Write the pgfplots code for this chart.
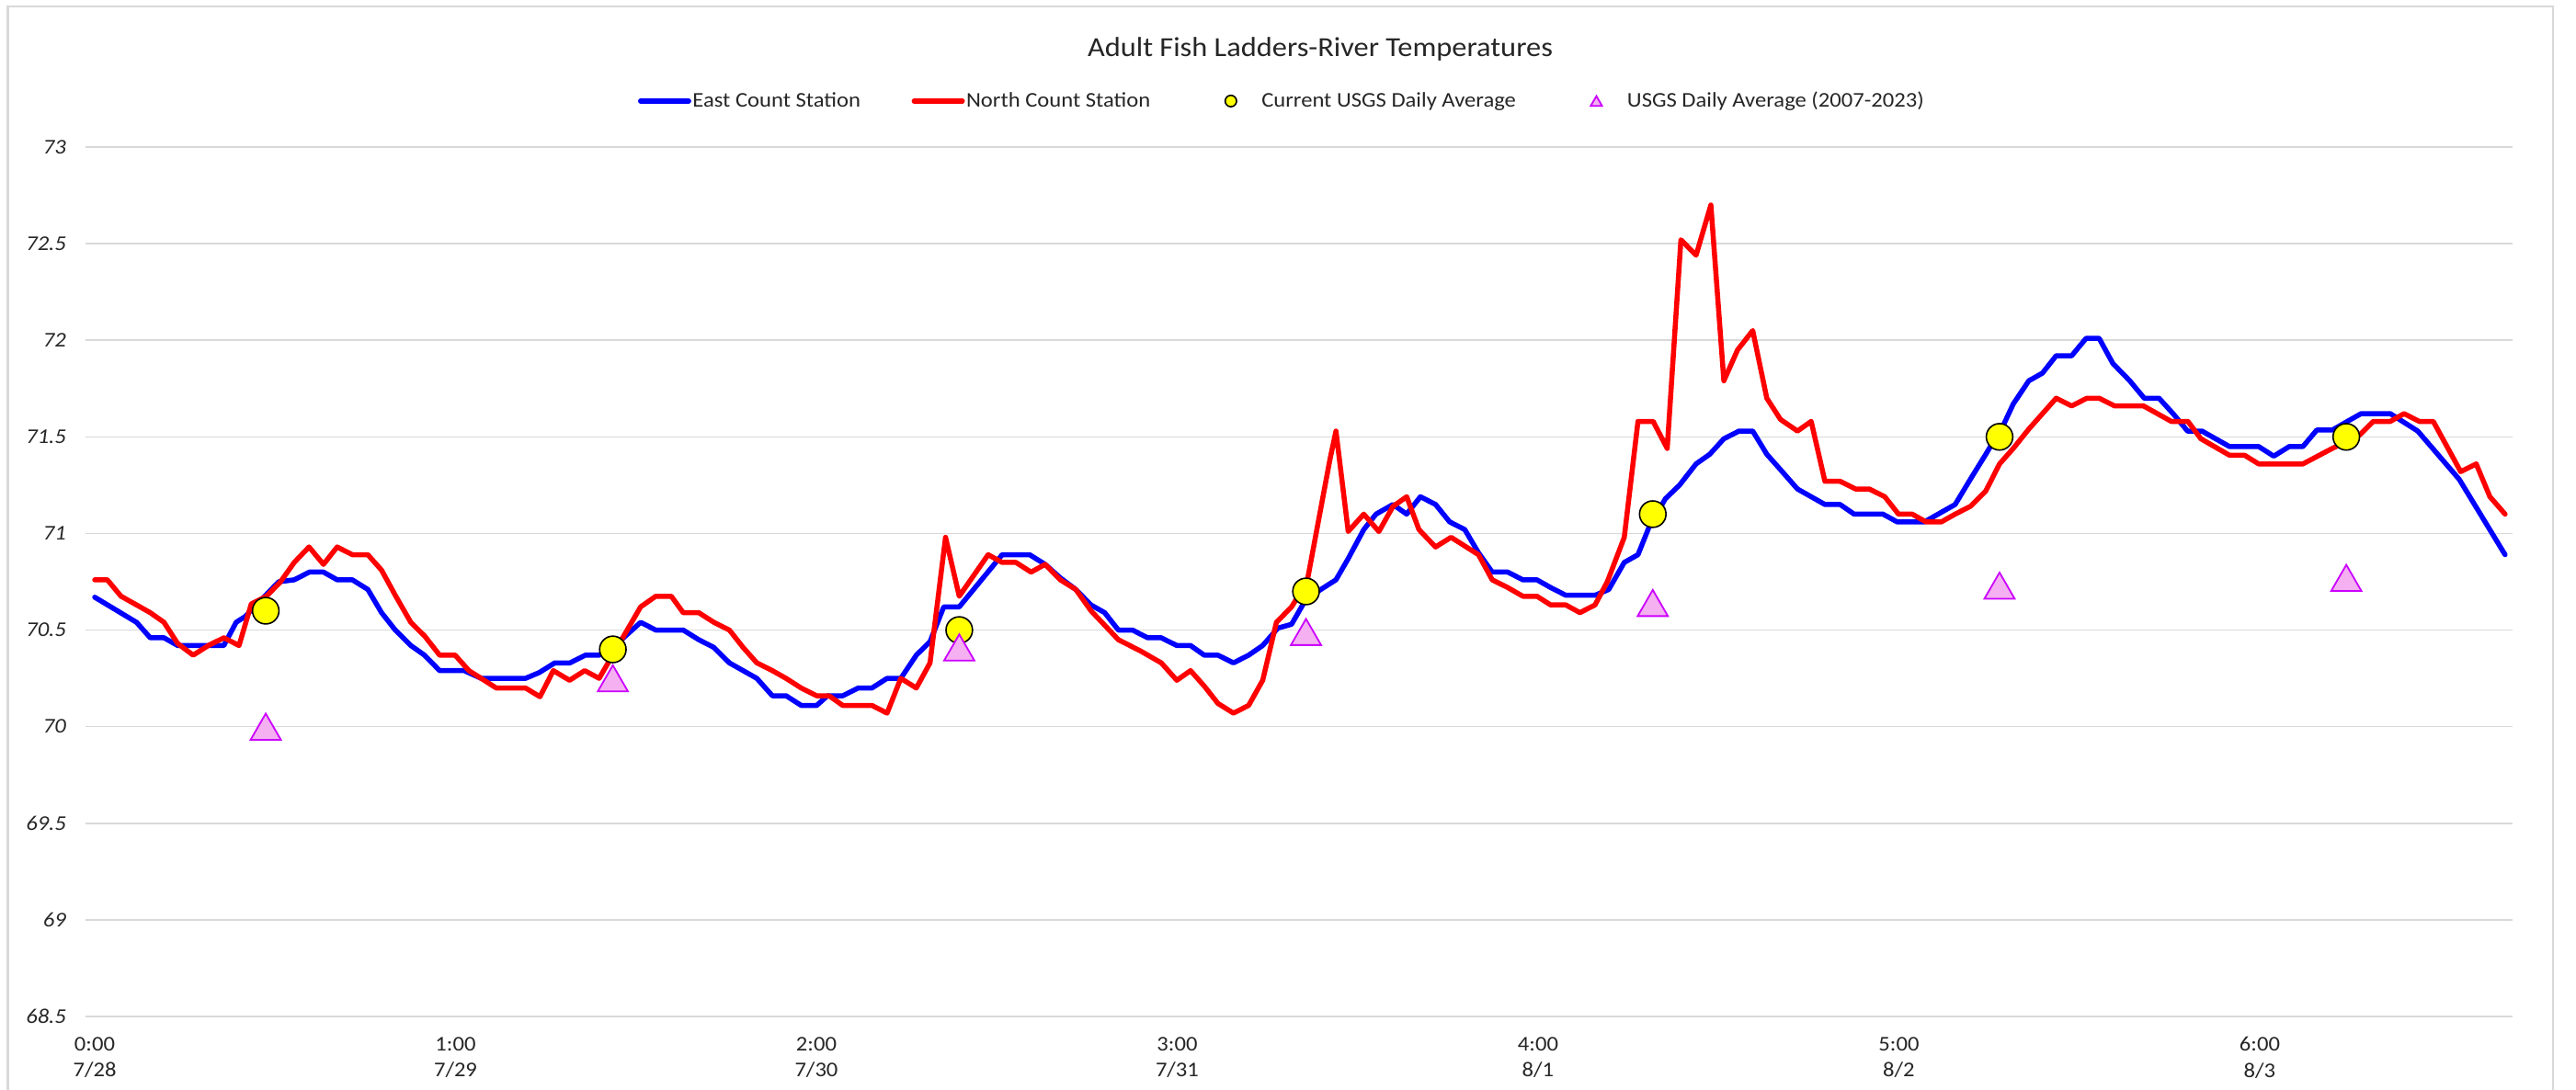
\documentclass[border=0pt]{standalone}
\usepackage{fontspec}
\setmainfont{Carlito}[FakeStretch=1.08]
\usepackage{pgfplots}
\pgfplotsset{compat=1.18}
\usepackage{pgfplotstable}

\definecolor{gridgray}{RGB}{217,217,217}
\definecolor{txt}{RGB}{38,38,38}
\definecolor{tripink}{RGB}{244,176,240}
\definecolor{trimag}{RGB}{204,0,255}
\definecolor{ylw}{RGB}{255,255,0}
\definecolor{eastblue}{RGB}{0,0,255}
\definecolor{northred}{RGB}{255,0,0}

\pgfdeclareplotmark{etri}{%
  \pgfpathmoveto{\pgfqpoint{0pt}{0.75\pgfplotmarksize}}%
  \pgfpathlineto{\pgfqpoint{0.866\pgfplotmarksize}{-0.75\pgfplotmarksize}}%
  \pgfpathlineto{\pgfqpoint{-0.866\pgfplotmarksize}{-0.75\pgfplotmarksize}}%
  \pgfpathclose
  \pgfusepathqfillstroke}

\pgfplotsset{
  lineleg/.style={legend image code/.code={\node[draw=none, fill=none, inner sep=0pt, minimum width=29pt, minimum height=6pt] at (14.5pt,0pt) {}; \draw[##1, line cap=round] (1.4pt,0pt) -- (27.6pt,0pt);}},
  circleg/.style={legend image code/.code={\node[draw=none, fill=none, inner sep=0pt, minimum width=32pt, minimum height=6pt] at (14.5pt,0pt) {}; \draw[##1, mark size=3.1pt] plot coordinates {(14.5pt,0pt)};}},
  trileg/.style={legend image code/.code={\node[draw=none, fill=none, inner sep=0pt, minimum width=32pt, minimum height=6pt] at (14.5pt,0pt) {}; \draw[##1, mark size=3.6pt] plot coordinates {(14.5pt,0pt)};}},
}

\pgfplotstableread{
x y
0.000 70.67
0.116 70.54
0.154 70.46
0.192 70.46
0.230 70.42
0.358 70.42
0.392 70.54
0.417 70.57
0.510 70.75
0.553 70.76
0.595 70.80
0.634 70.80
0.672 70.76
0.714 70.76
0.757 70.71
0.795 70.59
0.833 70.50
0.876 70.42
0.914 70.37
0.956 70.29
1.024 70.29
1.071 70.25
1.194 70.25
1.232 70.28
1.275 70.33
1.317 70.33
1.360 70.37
1.398 70.37
1.436 70.41
1.513 70.54
1.555 70.50
1.631 70.50
1.674 70.45
1.716 70.41
1.759 70.33
1.797 70.29
1.835 70.25
1.878 70.16
1.916 70.16
1.958 70.11
2.001 70.11
2.031 70.16
2.073 70.16
2.116 70.20
2.154 70.20
2.196 70.25
2.234 70.25
2.277 70.37
2.315 70.44
2.353 70.62
2.396 70.62
2.515 70.89
2.591 70.89
2.634 70.84
2.676 70.77
2.719 70.71
2.761 70.63
2.799 70.59
2.837 70.50
2.876 70.50
2.918 70.46
2.956 70.46
2.999 70.42
3.037 70.42
3.075 70.37
3.113 70.37
3.156 70.33
3.198 70.37
3.237 70.42
3.279 70.51
3.317 70.53
3.357 70.66
3.398 70.71
3.440 70.76
3.474 70.87
3.517 71.02
3.551 71.10
3.598 71.15
3.636 71.10
3.674 71.19
3.716 71.15
3.755 71.06
3.797 71.02
3.835 70.90
3.873 70.80
3.916 70.80
3.958 70.76
3.997 70.76
4.035 70.72
4.077 70.68
4.158 70.68
4.196 70.71
4.239 70.85
4.277 70.89
4.307 71.03
4.353 71.18
4.392 71.25
4.438 71.36
4.476 71.41
4.515 71.49
4.557 71.53
4.595 71.53
4.634 71.41
4.672 71.33
4.719 71.23
4.757 71.19
4.795 71.15
4.837 71.15
4.876 71.10
4.956 71.10
4.995 71.06
5.071 71.06
5.156 71.15
5.198 71.28
5.241 71.41
5.292 71.57
5.317 71.67
5.360 71.79
5.398 71.83
5.436 71.92
5.479 71.92
5.519 72.01
5.555 72.01
5.593 71.88
5.640 71.79
5.680 71.70
5.721 71.70
5.760 71.62
5.800 71.53
5.840 71.53
5.916 71.45
5.997 71.45
6.039 71.40
6.082 71.45
6.120 71.45
6.158 71.535
6.201 71.535
6.243 71.58
6.281 71.62
6.362 71.62
6.438 71.53
6.553 71.28
6.680 70.89
}\eastdata

\pgfplotstableread{
x y
0.000 70.76
0.035 70.76
0.073 70.675
0.116 70.63
0.154 70.59
0.192 70.54
0.230 70.43
0.273 70.37
0.315 70.42
0.358 70.46
0.400 70.42
0.434 70.635
0.476 70.675
0.515 70.75
0.553 70.85
0.594 70.93
0.634 70.84
0.672 70.93
0.714 70.89
0.757 70.89
0.795 70.81
0.833 70.68
0.876 70.54
0.914 70.47
0.956 70.37
0.999 70.37
1.037 70.29
1.071 70.25
1.113 70.20
1.194 70.20
1.234 70.155
1.271 70.29
1.316 70.24
1.358 70.29
1.398 70.25
1.513 70.62
1.555 70.675
1.598 70.675
1.631 70.59
1.674 70.59
1.716 70.54
1.759 70.50
1.797 70.41
1.835 70.33
1.878 70.29
1.916 70.25
1.958 70.20
2.001 70.16
2.035 70.16
2.073 70.11
2.154 70.11
2.196 70.07
2.234 70.25
2.277 70.20
2.315 70.33
2.358 70.98
2.396 70.675
2.476 70.89
2.515 70.85
2.553 70.85
2.595 70.80
2.634 70.84
2.676 70.76
2.719 70.71
2.761 70.60
2.837 70.45
2.900 70.39
2.956 70.33
2.999 70.24
3.037 70.29
3.075 70.21
3.113 70.12
3.156 70.07
3.198 70.11
3.237 70.24
3.275 70.54
3.317 70.62
3.360 70.75
3.423 71.38
3.440 71.53
3.474 71.01
3.517 71.10
3.559 71.01
3.598 71.14
3.636 71.19
3.670 71.02
3.716 70.93
3.759 70.98
3.835 70.89
3.873 70.76
3.916 70.72
3.958 70.675
3.997 70.675
4.035 70.63
4.077 70.63
4.116 70.59
4.158 70.63
4.192 70.75
4.239 70.98
4.277 71.58
4.319 71.58
4.358 71.44
4.396 72.52
4.438 72.44
4.479 72.70
4.515 71.79
4.553 71.95
4.595 72.05
4.634 71.70
4.672 71.59
4.719 71.53
4.757 71.58
4.795 71.27
4.837 71.27
4.880 71.23
4.918 71.23
4.961 71.19
4.999 71.10
5.037 71.10
5.075 71.06
5.118 71.06
5.156 71.10
5.198 71.14
5.241 71.22
5.279 71.36
5.317 71.44
5.360 71.54
5.398 71.62
5.436 71.70
5.479 71.66
5.521 71.70
5.555 71.70
5.598 71.66
5.678 71.66
5.755 71.58
5.801 71.58
5.837 71.49
5.916 71.405
5.958 71.405
5.997 71.36
6.120 71.36
6.201 71.44
6.277 71.51
6.315 71.58
6.362 71.58
6.400 71.62
6.442 71.58
6.481 71.58
6.557 71.32
6.600 71.36
6.638 71.19
6.680 71.10
}\northdata

\pgfplotstableread{
x y
0.474 70.6
1.436 70.4
2.396 70.5
3.357 70.7
4.318 71.1
5.279 71.5
6.240 71.5
}\usgscur

\pgfplotstableread{
x y
0.474 70.00
1.436 70.25
2.396 70.41
3.357 70.49
4.318 70.64
5.279 70.73
6.240 70.77
}\usgsavg

\begin{document}
\begin{tikzpicture}
\path[use as bounding box, fill=white] (0pt,0pt) rectangle (1401pt,593pt);
\draw[gridgray, line width=1.2pt] (4.2pt,-2pt) -- (4.2pt,589.6pt) -- (1388.5pt,589.6pt) -- (1388.5pt,-2pt);
\node[font=\fontsize{15}{18}\selectfont, text=txt, inner sep=0pt] at (718pt,566pt) {Adult Fish Ladders-River Temperatures};
\begin{axis}[
  at={(46.5pt,40pt)}, anchor=south west,
  scale only axis, width=1320pt, height=473pt,
  xmin=-0.0255, xmax=6.7006, ymin=68.5, ymax=73,
  axis line style={draw=none}, tick style={draw=none},
  ymajorgrids, major grid style={gridgray, line width=0.75pt},
  ytick={68.5,69,69.5,70,70.5,71,71.5,72,72.5,73},
  xtick={0,1,2,3,4,5,6},
  xticklabels={{0:00\\7/28},{1:00\\7/29},{2:00\\7/30},{3:00\\7/31},{4:00\\8/1},{5:00\\8/2},{6:00\\8/3}},
  /pgf/number format/assume math mode=true,
  xticklabel style={align=center, font=\fontsize{11.4}{14.15}\selectfont, text=txt, yshift=-7.7pt},
  yticklabel style={font=\fontsize{11.4}{13.7}\selectfont\itshape, text=txt, xshift=-7pt},
  legend columns=4,
  legend style={at={(axis description cs:0.2275,1.0529)}, anchor=west, draw=none, fill=none, inner sep=0pt,
    font=\fontsize{11.4}{13.7}\selectfont, text=txt, nodes={inner sep=0.75pt},
    /tikz/every even column/.append style={column sep=27pt}},
]
\addplot[eastblue, line width=2.75pt, line join=round, line cap=round, lineleg]
  table[x=x, y=y] {\eastdata};
\addlegendentry{East Count Station}
\addplot[northred, line width=2.75pt, line join=round, line cap=round, lineleg]
  table[x=x, y=y] {\northdata};
\addlegendentry{North Count Station}
\addplot[only marks, mark=*, mark size=7.2pt, mark options={fill=ylw, draw=black, line width=0.8pt}, circleg]
  table[x=x, y=y] {\usgscur};
\addlegendentry{Current USGS Daily Average}
\addplot[only marks, mark=etri, mark size=9.5pt, mark options={fill=tripink, draw=trimag, line width=0.9pt}, trileg]
  table[x=x, y=y] {\usgsavg};
\addlegendentry{USGS Daily Average (2007-2023)}
\end{axis}
\end{tikzpicture}
\end{document}
